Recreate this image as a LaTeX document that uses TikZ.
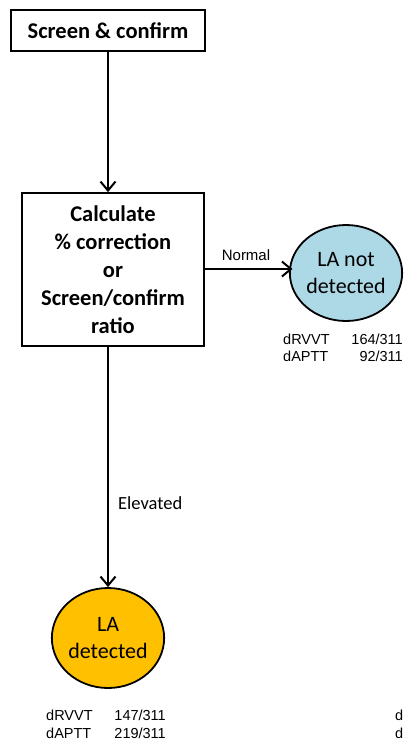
\documentclass[tikz,border=0pt]{standalone}
\usepackage{fontspec}
\setmainfont{Carlito}
\newfontfamily\arialfont{Liberation Sans}
\usetikzlibrary{shapes.geometric,arrows.meta}
\definecolor{lablue}{RGB}{173,216,230}
\definecolor{laorange}{RGB}{255,192,0}
\begin{document}
\begin{tikzpicture}[x=1pt,y=-1pt,
  boxnode/.style={draw,line width=1.8pt,fill=white,inner sep=0pt,align=center,
    font=\fontsize{22.5}{28}\selectfont\bfseries},
  ovalnode/.style={ellipse,draw,line width=1.8pt,inner sep=0pt,align=center,
    minimum width=108pt,minimum height=96pt,font=\fontsize{22}{27}\selectfont},
  conn/.style={line width=2pt,-{Straight Barb[length=9pt,width=15pt,line width=2pt]}},
  smalltxt/.style={inner sep=0pt,font=\arialfont\fontsize{14.5}{16}\selectfont},
  lbl/.style={inner sep=0pt}]
\useasboundingbox (0,0) rectangle (404,742);
\node[boxnode,minimum width=194pt,minimum height=41pt] (screen) at (108,30.5) {Screen \& confirm};
\node[boxnode,minimum width=182pt,minimum height=153pt] (calc) at (113,269.5)
  {Calculate\\\% correction\\or\\Screen/confirm\\ratio};
\node[ovalnode,fill=lablue] (notdet) at (346,273) {LA not\\detected};
\node[ovalnode,fill=laorange,minimum height=100pt] (det) at (108,638) {LA\\detected};
\draw[conn] (screen.south) -- (screen.south |- calc.north);
\draw[conn] (calc.east |- 0,269) -- (292.5,269);
\draw[conn] (screen.south |- calc.south) -- (det.north);
\node[lbl,font=\arialfont\fontsize{15}{16}\selectfont] (normal) at (246,255) {Normal};
\node[lbl,anchor=west,font=\fontsize{18.5}{20}\selectfont] (elev) at (118,503) {Elevated};
\node[smalltxt,anchor=west] (r1) at (283,339) {dRVVT};
\node[smalltxt,anchor=east] (r1n) at (403,339) {164/311};
\node[smalltxt,anchor=west] (r2) at (283,356) {dAPTT};
\node[smalltxt,anchor=east] (r2n) at (403,356) {92/311};
\node[smalltxt,anchor=west] (b1) at (46,715) {dRVVT};
\node[smalltxt,anchor=east] (b1n) at (166,715) {147/311};
\node[smalltxt,anchor=west] (b2) at (46,733) {dAPTT};
\node[smalltxt,anchor=east] (b2n) at (166,733) {219/311};
\node[smalltxt,anchor=west] (c1) at (395,715) {d};
\node[smalltxt,anchor=west] (c2) at (395,733) {d};
\end{tikzpicture}
\end{document}
